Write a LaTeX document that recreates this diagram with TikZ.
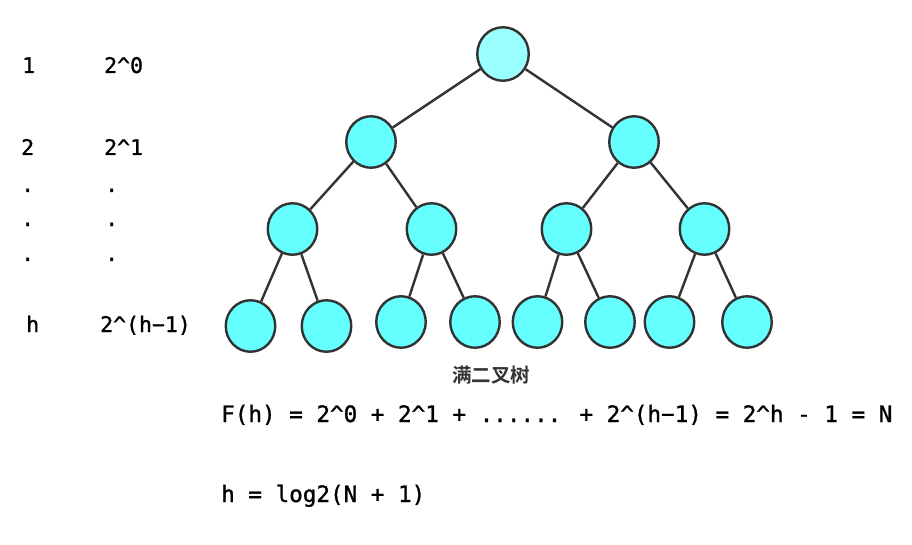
\documentclass[tikz,border=0pt]{standalone}
\usepackage{fontspec}
\usetikzlibrary{shapes.geometric}
\newfontfamily\monof{DejaVu Sans Mono}[FakeBold=1.2]
\newfontfamily\cjkf{Noto Sans CJK SC}[BoldFont={* Bold}]
\definecolor{edgec}{HTML}{333333}
\definecolor{rootc}{HTML}{99FFFF}
\definecolor{nodec}{HTML}{66FFFF}
\tikzset{
  tnode/.style={ellipse, draw=edgec, line width=2.4pt, fill=nodec, inner sep=0pt,
    minimum width=49.5pt, minimum height=51.5pt},
  rootnode/.style={tnode, fill=rootc, minimum width=51.5pt, minimum height=53.5pt},
  tedge/.style={draw=edgec, line width=2.4pt},
  lefttxt/.style={anchor=base west, inner sep=0pt, font=\monof\fontsize{21.5}{24}\selectfont},
  formula/.style={anchor=base west, inner sep=0pt, font=\monof\fontsize{22.6}{26}\selectfont},
  caption/.style={inner sep=0pt, text=edgec, font=\cjkf\bfseries\fontsize{19.5}{22}\selectfont}
}
\begin{document}
\begin{tikzpicture}[x=1pt, y=-1pt]
\useasboundingbox[fill=white] (0,0) rectangle (912,545);
% tree nodes
\node[rootnode] (r) at (503,54) {};
\node[tnode] (a) at (371,142) {};
\node[tnode] (b) at (634,142) {};
\node[tnode] (c) at (292.5,229) {};
\node[tnode] (d) at (431.5,229) {};
\node[tnode] (e) at (566.5,229) {};
\node[tnode] (f) at (704.5,229) {};
\node[tnode] (g1) at (250.5,326) {};
\node[tnode] (g2) at (326.5,326) {};
\node[tnode] (g3) at (401,322) {};
\node[tnode] (g4) at (475,322) {};
\node[tnode] (g5) at (537.5,322) {};
\node[tnode] (g6) at (610,322) {};
\node[tnode] (g7) at (669.5,322) {};
\node[tnode] (g8) at (747,322) {};
% edges
\draw[tedge] (r) -- (a);
\draw[tedge] (r) -- (b);
\draw[tedge] (a) -- (c);
\draw[tedge] (a) -- (d);
\draw[tedge] (b) -- (e);
\draw[tedge] (b) -- (f);
\draw[tedge] (c) -- (g1);
\draw[tedge] (c) -- (g2);
\draw[tedge] (d) -- (g3);
\draw[tedge] (d) -- (g4);
\draw[tedge] (e) -- (g5);
\draw[tedge] (e) -- (g6);
\draw[tedge] (f) -- (g7);
\draw[tedge] (f) -- (g8);
% caption
\node[caption] (cap) at (491,375) {满二叉树};
% left column
\node[lefttxt] (l1) at (22,73) {1};
\node[lefttxt] (p1) at (104,73) {2\^{}0};
\node[lefttxt] (l2) at (21,155) {2};
\node[lefttxt] (p2) at (104,155) {2\^{}1};
\node[lefttxt] (ld1) at (21,192) {.};
\node[lefttxt] (pd1) at (105,192) {.};
\node[lefttxt] (ld2) at (21,226) {.};
\node[lefttxt] (pd2) at (105,226) {.};
\node[lefttxt] (ld3) at (21,261) {.};
\node[lefttxt] (pd3) at (105,261) {.};
\node[lefttxt] (lh) at (26,332) {h};
\node[lefttxt] (ph) at (100,332) {2\^{}(h−1)};
% formulas
\node[formula] (f1) at (221,422) {F(h) = 2\^{}0 + 2\^{}1 + ...... + 2\^{}(h−1) = 2\^{}h - 1 = N};
\node[formula] (f2) at (221,502) {h = log2(N + 1)};
\end{tikzpicture}
\end{document}
